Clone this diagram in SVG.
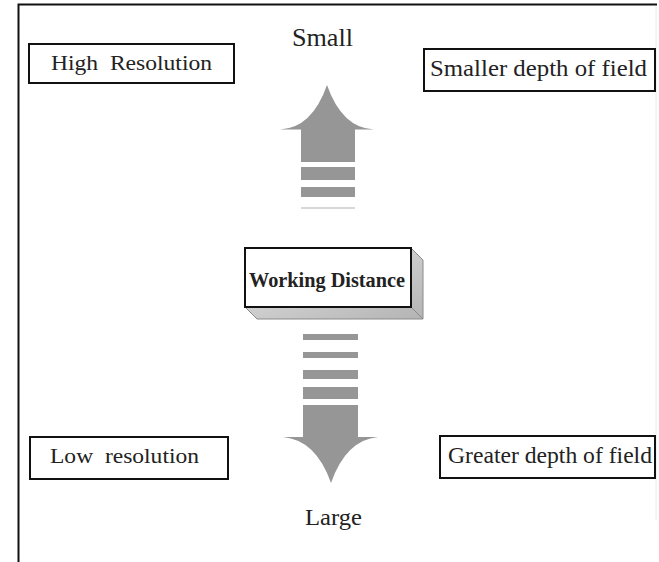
<svg xmlns="http://www.w3.org/2000/svg" width="659" height="562" viewBox="0 0 659 562">
  <style>
    .box { fill: #ffffff; stroke: #111111; stroke-width: 2; }
    .lbl { font-family: "Liberation Serif", "Times New Roman", serif; fill: #222222; white-space: pre; }
    .arrow { fill: #969696; }
  </style>
  <defs>
    <linearGradient id="side" x1="0" y1="0" x2="1" y2="1">
      <stop offset="0" stop-color="#e4e4e4"/>
      <stop offset="1" stop-color="#b4b4b4"/>
    </linearGradient>
  </defs>
  <rect width="659" height="562" fill="#ffffff"/>
  <!-- frame -->
  <g id="frame" fill="none">
    <path d="M18.5,562 V4.5 H657" stroke="#111111" stroke-width="2"/>
    <path d="M656,6 V520" stroke="#ececec" stroke-width="1"/>
  </g>

  <g id="connectors">
    <g id="arrow-up" class="arrow">
      <path d="M327,85 Q312,128 280,129.5 L301,129.5 L301,162 L355,162 L355,129.5 L374,129.5 Q342,128 327,85 Z"/>
      <rect x="301" y="167" width="54" height="13"/>
      <rect x="301" y="187" width="54" height="10"/>
      <rect x="301" y="207" width="54" height="2" fill="#d8d8d8"/>
    </g>
    <g id="arrow-down" class="arrow">
      <rect x="303" y="334" width="55" height="6"/>
      <rect x="303" y="352" width="55" height="6"/>
      <rect x="303" y="370" width="55" height="9"/>
      <rect x="303" y="387" width="55" height="12"/>
      <path d="M303,405 L358,405 L358,437 L378,437 Q346,440 331,483 Q316,440 283,437 L303,437 Z"/>
    </g>
  </g>

  <g id="label-small">
    <text class="lbl" x="292" y="46" font-size="25" textLength="61" lengthAdjust="spacingAndGlyphs">Small</text>
  </g>
  <g id="label-large">
    <text class="lbl" x="305" y="525" font-size="24" textLength="57" lengthAdjust="spacingAndGlyphs">Large</text>
  </g>

  <g id="node-high-resolution">
    <rect class="box" x="29" y="44" width="205" height="39"/>
    <text class="lbl" xml:space="preserve" x="51" y="70" font-size="22" textLength="161" lengthAdjust="spacingAndGlyphs">High  Resolution</text>
  </g>

  <g id="node-smaller-dof">
    <rect class="box" x="424" y="49" width="231" height="42"/>
    <text class="lbl" x="430" y="76" font-size="23" textLength="217" lengthAdjust="spacingAndGlyphs">Smaller depth of field</text>
  </g>

  <g id="node-working-distance">
    <path d="M411,248 L423,260 L423,319 L257,319 L245,307 L411,307 Z" fill="url(#side)" stroke="#8a8a8a" stroke-width="1"/>
    <path d="M411,307 L423,319" stroke="#8a8a8a" stroke-width="1"/>
    <rect class="box" x="245" y="248" width="166" height="59"/>
    <text class="lbl" x="249" y="287" font-size="21" font-weight="bold" textLength="156" lengthAdjust="spacingAndGlyphs">Working Distance</text>
  </g>

  <g id="node-low-resolution">
    <rect class="box" x="30" y="437" width="198" height="42"/>
    <text class="lbl" xml:space="preserve" x="50" y="463" font-size="22" textLength="149" lengthAdjust="spacingAndGlyphs">Low  resolution</text>
  </g>

  <g id="node-greater-dof">
    <rect class="box" x="440" y="436" width="215" height="42"/>
    <text class="lbl" x="448" y="463" font-size="23" textLength="204" lengthAdjust="spacingAndGlyphs">Greater depth of field</text>
  </g>
</svg>
